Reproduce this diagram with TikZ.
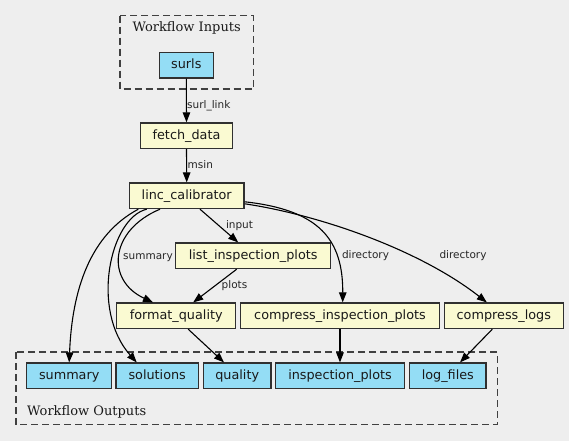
\documentclass[tikz,border=0pt]{standalone}
\usepackage{fontspec}
\usetikzlibrary{arrows.meta}
\newfontfamily\nodefont{DejaVu Sans}
\newfontfamily\clusterfont{DejaVu Serif}
\definecolor{bg}{HTML}{EEEEEE}
\definecolor{taskfill}{HTML}{FAFAD2}
\definecolor{iofill}{HTML}{94DDF5}
\definecolor{clusterline}{HTML}{404040}
\definecolor{boxline}{HTML}{303030}
\tikzset{
  box/.style={draw=boxline, line width=1.3pt, minimum height=25.5pt, inner sep=0pt,
    text height=9.5pt, text depth=2.9pt, text=black!90, font=\nodefont\fontsize{12.8}{14}\selectfont},
  task/.style={box, fill=taskfill},
  io/.style={box, fill=iofill},
  cluster/.style={draw=clusterline, line width=1.3pt, dash pattern=on 7pt off 4pt},
  clabel/.style={font=\clusterfont\fontsize{13}{15}\selectfont, inner sep=0pt, text=black!90},
  elabel/.style={font=\nodefont\fontsize{10.5}{12}\selectfont, inner sep=0pt, text=black!85},
  edge/.style={line width=1.1pt, -{Triangle[length=10pt,width=7.5pt]}},
}
\begin{document}
\begin{tikzpicture}[x=1pt,y=-1pt]
\fill[bg] (0,0) rectangle (569,441);
\useasboundingbox (0,0) rectangle (569,441);
% clusters
\draw[cluster] (120,15.7) rectangle (253.3,89);
\node[clabel, anchor=base] (inlab) at (186.7,31.7) {Workflow Inputs};
\draw[cluster] (16,352) rectangle (497.3,424.7);
\node[clabel, anchor=base west] (outlab) at (27,415.5) {Workflow Outputs};
% nodes
\node[io, minimum width=54pt] (surls) at (186.3,65.2) {surls};
\node[task, minimum width=91.7pt] (fetch) at (186.5,135.7) {fetch\_data};
\node[task, minimum width=114.7pt] (linc) at (186.7,195.8) {linc\_calibrator};
\node[task, minimum width=155pt] (list) at (253.2,255.8) {list\_inspection\_plots};
\node[task, minimum width=119pt] (fq) at (176.2,315.8) {format\_quality};
\node[task, minimum width=198.6pt] (cip) at (340,315.8) {compress\_inspection\_plots};
\node[task, minimum width=119pt] (cl) at (503.8,315.8) {compress\_logs};
\node[io, minimum width=85pt] (summary) at (69.2,375.8) {summary};
\node[io, minimum width=82.3pt] (solutions) at (157.2,375.8) {solutions};
\node[io, minimum width=67.7pt] (quality) at (237.2,375.8) {quality};
\node[io, minimum width=128.6pt] (inspection) at (340,375.8) {inspection\_plots};
\node[io, minimum width=76.3pt] (logfiles) at (447.8,375.8) {log\_files};
% edges
\draw[edge] (surls.south) -- (fetch.north);
\node[elabel, anchor=base west] (l1) at (187,108.5) {surl\_link};
\draw[edge] (fetch.south) -- (linc.north);
\node[elabel, anchor=base west] (l2) at (187.5,168) {msin};
\draw[edge] ([xshift=13.3pt]linc.south) -- ([xshift=-15pt]list.north);
\node[elabel, anchor=base] (l3) at (239.5,228.3) {input};
\draw[edge] ([xshift=-16.5pt]list.south) -- ([xshift=17pt]fq.north);
\node[elabel, anchor=base] (l4) at (234.5,288.3) {plots};
\draw[edge] ([xshift=-26.7pt]linc.south) .. controls (110,230) and (105,280) .. ([xshift=-23.2pt]fq.north);
\node[elabel, anchor=base] (l5) at (148,259) {summary};
\draw[edge] ([xshift=-48.4pt]linc.south) .. controls (90,235) and (72,290) .. (summary.north);
\draw[edge] ([xshift=-40pt]linc.south) .. controls (110,218) and (90,310) .. ([xshift=-20.5pt]solutions.north);
\draw[edge] ([yshift=-6pt]linc.east) .. controls (320,210) and (343,240) .. ([xshift=2.7pt]cip.north);
\node[elabel, anchor=base] (l6) at (365.5,258.3) {directory};
\draw[edge] ([yshift=-8pt]linc.east) .. controls (320,215) and (420,250) .. ([xshift=-17pt]cl.north);
\node[elabel, anchor=base] (l7) at (463,258.3) {directory};
\draw[edge] ([xshift=12pt]fq.south) -- ([xshift=-13.2pt]quality.north);
\draw[edge] (cip.south) -- (inspection.north);
\draw[edge] ([xshift=-11.5pt]cl.south) -- ([xshift=12.2pt]logfiles.north);
\end{tikzpicture}
\end{document}
